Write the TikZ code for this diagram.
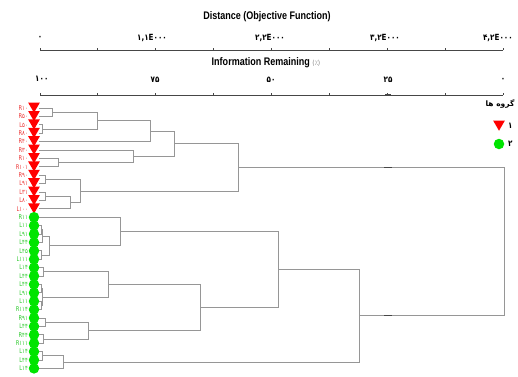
\documentclass[tikz,border=0pt]{standalone}
\usepackage{fontspec}
\usepackage{tikz}
\usetikzlibrary{calc,shapes.geometric}
\setmainfont{Liberation Sans}
\newfontfamily\narrowfont[FakeStretch=0.82]{Liberation Sans}
\newfontfamily\fadigits[FakeStretch=0.85]{DejaVu Sans}
\newfontfamily\leaffont[FakeStretch=0.8]{DejaVu Sans}
\newfontfamily\farsifont[Script=Arabic]{DejaVu Sans}
\TeXXeTstate=1
\definecolor{linkgray}{RGB}{150,150,150}
\definecolor{axisgray}{RGB}{70,70,70}
\definecolor{markred}{RGB}{255,0,0}
\definecolor{markgreen}{RGB}{0,228,0}
\definecolor{labred}{RGB}{235,50,50}
\definecolor{labgreen}{RGB}{40,200,40}
\tikzstyle{link}=[draw=linkgray,line width=0.9pt]
\tikzstyle{axis}=[draw=axisgray,line width=1pt]
\tikzstyle{cutmark}=[draw=axisgray,line width=1.3pt]
\tikzstyle{title}=[font=\narrowfont\bfseries\fontsize{11}{12}\selectfont,inner sep=0pt]
\tikzstyle{ticklabel}=[font=\fadigits\bfseries\fontsize{8.5}{9}\selectfont,inner sep=0pt]
\tikzstyle{redmark}=[regular polygon,regular polygon sides=3,shape border rotate=180,fill=markred,minimum size=13.5pt,inner sep=0pt]
\tikzstyle{greenmark}=[circle,fill=markgreen,minimum size=10.5pt,inner sep=0pt]
\tikzstyle{leaflabel}=[font=\leaffont\fontsize{6.5}{6.5}\selectfont,inner sep=0pt,anchor=east]

\begin{document}
\begin{tikzpicture}[x=1pt,y=-1pt]
    \useasboundingbox (0,0) rectangle (518,376);
    % axes
    \node[title] (dist) at (267,17) {Distance (Objective Function)};
    \node[title] (info) at (266,63) {Information Remaining {\fadigits\mdseries\fontsize{7}{8}\selectfont\color{gray}(٪)}};
    \draw[axis] (40,50) -- (503,50);
    \draw[axis] (40,95) -- (503,95);
    \foreach \j in {0,...,8}
        \draw[axis] ({40+57.875*\j},50) -- ++(0,-2) ({40+57.875*\j},95) -- ++(0,-2);
    \foreach \pos/\name/\txt in {{(40,38)/d0/۰}, {(152,38)/d1/۱,۱E۰۰۰}, {(270,38)/d2/۲,۲E۰۰۰}, {(385,38)/d3/۳,۲E۰۰۰}}
        \node[ticklabel] (\name) at \pos {\txt};
    \node[ticklabel,anchor=east] (d4) at (513,38) {۴,۲E۰۰۰};
    \node[ticklabel,anchor=west] (i0) at (35,79) {۱۰۰};
    \foreach \pos/\name/\txt in {{(155,80)/i1/۷۵}, {(271,80)/i2/۵۰}, {(388,80)/i3/۲۵}, {(503,80)/i4/۰}}
        \node[ticklabel] (\name) at \pos {\txt};
    \draw[cutmark] (385,95) -- (391,95);
    % leaves
    \foreach \i/\lab in {0/R۱۰, 1/R۵۰, 2/L۵۰, 3/R۸۰, 4/R۴۰, 5/R۳۰, 6/R۱۰, 7/R۱۰۱, 8/R۹۰, 9/L۹۱, 10/L۳۱, 11/L۸۰, 12/L۱۰۰}
        \coordinate (l\i) at (39,{108+8.4*\i});
    \foreach \i/\lab in {13/R۱۱, 14/L۱۱, 15/L۹۱, 16/L۴۴, 17/L۴۵, 18/L۱۱۱, 19/L۱۴, 20/L۴۴, 21/L۴۴, 22/L۹۱, 23/L۱۱, 24/R۱۱۴, 25/R۹۱, 26/L۴۴, 27/R۴۴, 28/R۱۱۱, 29/L۱۴, 30/L۴۴, 31/L۱۴}
        \coordinate (l\i) at (39,{108+8.4*\i});
    % clusters
    \foreach \m/\x/\a/\b in {ra/52/l0/l1, rb/42/l2/l3, rc/97/ra/rb, rd/150/rc/l4, re/58/l6/l7,
        rf/133/l5/re, rg/174/rd/rf, rh/45/l8/l9, ri/45/l10/l11, rj/70/ri/l12, rk/80/rh/rj, rl/238/rg/rk,
        ga/41/l14/l15, gb/42/ga/l16, gc/41/l17/l18, gd/49/gb/gc, ge/120/l13/gd,
        gf/43/l19/l20, gg/41/l21/l22, gh/41/l23/l24, gi/42/gg/gh, gj/108/gf/gi,
        gk/45/l25/l26, gl/43/l27/l28, gm/88/gk/gl, gn/200/gj/gm, go/278/ge/gn,
        gp/42/l29/l30, gq/63/gp/l31, gr/359/go/gq, root/504/rl/gr} {
        \path ($(\a)!.5!(\b)$) coordinate (mid) (\x,0) coordinate (xx);
        \coordinate (\m) at (xx |- mid);
        \path[link] (\a) -| (\m) (\b) -| (\m);
    }
    \coordinate (cut) at (388,0);
    \draw[cutmark] ($(rl -| cut)+(-4,0)$) -- ($(rl -| cut)+(4,0)$);
    \draw[cutmark] ($(gr -| cut)+(-4,0)$) -- ($(gr -| cut)+(4,0)$);
    % markers
    \foreach \i/\lab in {0/R۱۰, 1/R۵۰, 2/L۵۰, 3/R۸۰, 4/R۴۰, 5/R۳۰, 6/R۱۰, 7/R۱۰۱, 8/R۹۰, 9/L۹۱, 10/L۳۱, 11/L۸۰, 12/L۱۰۰} {
        \node[redmark] (t\i) at (34,{106+8.4*\i}) {};
        \node[leaflabel,text=labred] (n\i) at (28,{108+8.4*\i}) {\lab};
    }
    \foreach \i/\lab in {13/R۱۱, 14/L۱۱, 15/L۹۱, 16/L۴۴, 17/L۴۵, 18/L۱۱۱, 19/L۱۴, 20/L۴۴, 21/L۴۴, 22/L۹۱, 23/L۱۱, 24/R۱۱۴, 25/R۹۱, 26/L۴۴, 27/R۴۴, 28/R۱۱۱, 29/L۱۴, 30/L۴۴, 31/L۱۴} {
        \node[greenmark] (t\i) at (34,{108+8.4*\i}) {};
        \node[leaflabel,text=labgreen] (n\i) at (28,{108+8.4*\i}) {\lab};
    }
    % legend
    \node[font=\farsifont\bfseries\fontsize{7.5}{8}\selectfont,inner sep=0pt] (grp) at (500,104) {\beginR گروه ها\endR};
    \node[redmark] (key1) at (499,124) {};
    \node[ticklabel,anchor=west] (k1) at (508,126) {۱};
    \node[greenmark] (key2) at (499,144) {};
    \node[ticklabel,anchor=west] (k2) at (508,144) {۲};
\end{tikzpicture}
\end{document}
